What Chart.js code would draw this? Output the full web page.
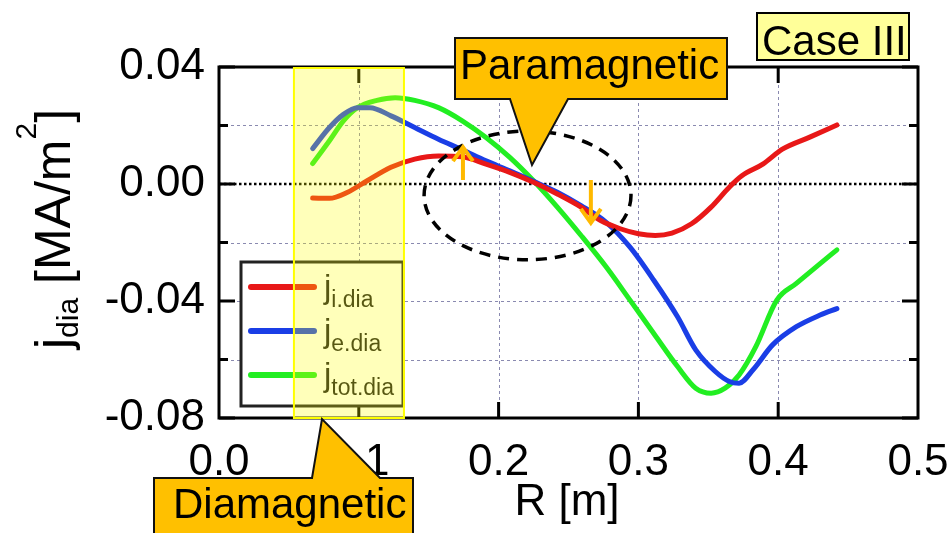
<!DOCTYPE html>
<html>
<head>
<meta charset="utf-8">
<script src="https://cdn.jsdelivr.net/npm/chart.js@4"></script>
<style>
  html, body { margin: 0; padding: 0; background: #fff; }
</style>
</head>
<body>
<canvas id="jdiaChart" width="949" height="533"></canvas>
<script>
// diamagnetic current density profiles, case III
const rIon  = [0.067, 0.079, 0.092, 0.106, 0.123, 0.140, 0.157, 0.174, 0.191, 0.208, 0.225, 0.242, 0.259, 0.273, 0.287, 0.300, 0.312, 0.324, 0.338, 0.352, 0.365, 0.374, 0.389, 0.403, 0.423, 0.442];
const jIon  = [-0.0048, -0.0049, -0.0028, 0.0011, 0.0057, 0.0085, 0.0096, 0.0093, 0.0068, 0.0040, 0.0006, -0.0034, -0.0079, -0.0125, -0.0153, -0.0170, -0.0176, -0.0168, -0.0136, -0.0079, -0.0011, 0.0028, 0.0068, 0.0119, 0.0161, 0.0202];

const rElec = [0.067, 0.079, 0.089, 0.099, 0.108, 0.123, 0.140, 0.157, 0.174, 0.191, 0.208, 0.225, 0.242, 0.259, 0.277, 0.294, 0.311, 0.328, 0.341, 0.355, 0.365, 0.372, 0.382, 0.396, 0.413, 0.430, 0.442];
const jElec = [0.0121, 0.0193, 0.0238, 0.0261, 0.0261, 0.0233, 0.0193, 0.0153, 0.0117, 0.0079, 0.0045, 0.0009, -0.0028, -0.0074, -0.0131, -0.0216, -0.0329, -0.0454, -0.0567, -0.0641, -0.0675, -0.0681, -0.0635, -0.0550, -0.0488, -0.0448, -0.0426];

const rTot  = [0.067, 0.079, 0.089, 0.099, 0.113, 0.126, 0.140, 0.157, 0.174, 0.191, 0.208, 0.225, 0.242, 0.259, 0.277, 0.294, 0.311, 0.328, 0.341, 0.352, 0.362, 0.372, 0.384, 0.399, 0.413, 0.430, 0.442];
const jTot  = [0.0070, 0.0148, 0.0216, 0.0261, 0.0286, 0.0295, 0.0286, 0.0261, 0.0216, 0.0159, 0.0091, 0.0011, -0.0079, -0.0176, -0.0284, -0.0397, -0.0511, -0.0624, -0.0698, -0.0715, -0.0698, -0.0653, -0.0556, -0.0397, -0.0340, -0.0272, -0.0225];

const legendSubs = ['i.dia', 'e.dia', 'tot.dia'];
const xTickLabels = ['0.0', '0.1', '0.2', '0.3', '0.4', '0.5'];
const yTickLabels = ['-0.08', '-0.04', '0.00', '0.04'];
const xGridValues = [0.1, 0.2, 0.3, 0.4];
const yGridValues = [0.02, -0.02, -0.04, -0.06];
const yMinorTicks = [0.02, -0.02, -0.06];
const yMajorTicks = [0.04, 0, -0.04, -0.08];

const FONT = '"Liberation Sans", Arial, sans-serif';

function pts(xs, ys) {
  return xs.map((x, i) => ({ x: x, y: ys[i] }));
}

function series(label, xs, ys, color) {
  return {
    label: label,
    data: pts(xs, ys),
    showLine: true,
    borderColor: color,
    backgroundColor: color,
    borderWidth: 5,
    borderCapStyle: 'round',
    borderJoinStyle: 'round',
    pointRadius: 0,
    cubicInterpolationMode: 'monotone'
  };
}

function polyPath(ctx, p) {
  ctx.beginPath();
  ctx.moveTo(p[0][0], p[0][1]);
  for (let i = 1; i < p.length; i++) ctx.lineTo(p[i][0], p[i][1]);
  ctx.closePath();
}

function arrow(ctx, x, y0, y1) {
  const dir = y1 < y0 ? 1 : -1;
  ctx.beginPath();
  ctx.moveTo(x, y0);
  ctx.lineTo(x, y1);
  ctx.moveTo(x - 10, y1 + dir * 14);
  ctx.lineTo(x, y1);
  ctx.lineTo(x + 10, y1 + dir * 14);
  ctx.stroke();
}

// text runs with sub/superscripts: [text, size, baseline shift]
function richText(ctx, runs, x, y) {
  let cx = x;
  runs.forEach(r => {
    ctx.font = r[1] + 'px ' + FONT;
    ctx.fillText(r[0], cx, y + r[2]);
    cx += ctx.measureText(r[0]).width;
  });
}

const decorations = {
  id: 'decorations',
  beforeDatasetsDraw(chart) {
    const { ctx, chartArea: a, scales: { x, y } } = chart;
    ctx.save();
    ctx.strokeStyle = '#8a8ab0';
    ctx.lineWidth = 1;
    ctx.setLineDash([3, 3]);
    ctx.beginPath();
    xGridValues.forEach(v => {
      const px = Math.round(x.getPixelForValue(v)) + 0.5;
      ctx.moveTo(px, a.top); ctx.lineTo(px, a.bottom);
    });
    yGridValues.forEach(v => {
      const py = Math.round(y.getPixelForValue(v)) + 0.5;
      ctx.moveTo(a.left, py); ctx.lineTo(a.right, py);
    });
    ctx.stroke();
    // zero line
    ctx.strokeStyle = '#000';
    ctx.lineWidth = 2.5;
    ctx.setLineDash([2.5, 2.5]);
    const y0 = y.getPixelForValue(0);
    ctx.beginPath();
    ctx.moveTo(a.left, y0); ctx.lineTo(a.right, y0);
    ctx.stroke();
    ctx.restore();
  },
  afterDatasetsDraw(chart) {
    const { ctx, chartArea: a, scales: { x, y } } = chart;
    ctx.save();

    // frame and inward ticks
    ctx.strokeStyle = '#000';
    ctx.lineWidth = 3;
    ctx.strokeRect(a.left, a.top, a.right - a.left, a.bottom - a.top);
    ctx.beginPath();
    xGridValues.forEach(v => {
      const px = x.getPixelForValue(v);
      ctx.moveTo(px, a.bottom); ctx.lineTo(px, a.bottom - 16);
      ctx.moveTo(px, a.top); ctx.lineTo(px, a.top + 16);
    });
    yMajorTicks.forEach(v => {
      const py = y.getPixelForValue(v);
      ctx.moveTo(a.left, py); ctx.lineTo(a.left + 16, py);
      ctx.moveTo(a.right, py); ctx.lineTo(a.right - 16, py);
    });
    yMinorTicks.forEach(v => {
      const py = y.getPixelForValue(v);
      ctx.moveTo(a.left, py); ctx.lineTo(a.left + 9, py);
      ctx.moveTo(a.right, py); ctx.lineTo(a.right - 9, py);
    });
    ctx.stroke();

    // dashed ellipse around the crossing region
    const ecx = x.getPixelForValue(0.2207), ecy = y.getPixelForValue(-0.0039);
    const erx = x.getPixelForValue(0.2207 + 0.074) - ecx;
    const ery = y.getPixelForValue(-0.0039 - 0.022) - ecy;
    ctx.setLineDash([11, 8]);
    ctx.lineWidth = 3.5;
    ctx.beginPath();
    ctx.ellipse(ecx, ecy, erx, ery, 0, 0, Math.PI * 2);
    ctx.stroke();
    ctx.setLineDash([]);

    // orange arrows
    ctx.strokeStyle = '#ffb900';
    ctx.lineWidth = 4;
    ctx.lineCap = 'butt';
    arrow(ctx, x.getPixelForValue(0.1745), y.getPixelForValue(0.0014), y.getPixelForValue(0.0126));
    arrow(ctx, x.getPixelForValue(0.266), y.getPixelForValue(0.0014), y.getPixelForValue(-0.0133));

    // legend
    ctx.fillStyle = '#fff';
    ctx.fillRect(241, 262, 162, 144);
    ctx.strokeStyle = '#222';
    ctx.lineWidth = 3;
    ctx.strokeRect(241, 262, 162, 144);
    const legendY = [287, 331, 375];
    chart.data.datasets.forEach((ds, i) => {
      const ly = legendY[i];
      ctx.strokeStyle = ds.borderColor;
      ctx.lineWidth = 6;
      ctx.lineCap = 'round';
      ctx.beginPath();
      ctx.moveTo(251, ly); ctx.lineTo(314, ly);
      ctx.stroke();
      ctx.fillStyle = '#1a1a1a';
      ctx.textBaseline = 'alphabetic';
      ctx.textAlign = 'left';
      richText(ctx, [['j', 33, 0], [legendSubs[i], 23, 9]], 324, ly + 11);
    });

    // highlighted inner region
    const bx0 = x.getPixelForValue(0.0536), bx1 = x.getPixelForValue(0.1323);
    ctx.fillStyle = 'rgba(255, 255, 0, 0.27)';
    ctx.fillRect(bx0, a.top + 1, bx1 - bx0, a.bottom - a.top - 1);
    ctx.strokeStyle = '#ffff00';
    ctx.lineWidth = 2;
    ctx.strokeRect(bx0, a.top + 1, bx1 - bx0, a.bottom - a.top - 1);
    ctx.restore();
  },
  afterDraw(chart) {
    const { ctx } = chart;
    ctx.save();
    ctx.textAlign = 'left';
    ctx.textBaseline = 'alphabetic';
    ctx.lineJoin = 'miter';

    // callouts
    ctx.fillStyle = '#ffc000';
    ctx.strokeStyle = '#111';
    ctx.lineWidth = 2;
    polyPath(ctx, [[455, 38], [727, 38], [727, 99], [568, 99], [532, 165], [510, 99], [455, 99]]);
    ctx.fill(); ctx.stroke();
    polyPath(ctx, [[154, 478], [312, 478], [322, 419], [380, 478], [413, 478], [413, 545], [154, 545]]);
    ctx.fill(); ctx.stroke();
    ctx.fillStyle = '#000';
    ctx.font = '42px ' + FONT;
    ctx.fillText('Paramagnetic', 460, 79);
    ctx.fillText('Diamagnetic', 173, 518);

    // case label
    ctx.fillStyle = '#ffff99';
    ctx.fillRect(757, 13, 152, 47);
    ctx.strokeStyle = '#000';
    ctx.lineWidth = 2;
    ctx.strokeRect(757, 13, 152, 47);
    ctx.fillStyle = '#000';
    ctx.font = '42px ' + FONT;
    ctx.fillText('Case III', 762, 55);

    // axis titles
    ctx.textAlign = 'center';
    ctx.font = '44px ' + FONT;
    ctx.fillText('R [m]', 567, 515);

    ctx.textAlign = 'left';
    ctx.translate(70, 349);
    ctx.rotate(-Math.PI / 2);
    richText(ctx, [['j', 50, 0], ['dia', 30, 8], [' [MA/m', 50, 0], ['2', 30, -34], [']', 50, 0]], 0, 0);
    ctx.restore();
  }
};

const ctx = document.getElementById('jdiaChart').getContext('2d');
const jdiaChart = new Chart(ctx, {
  type: 'scatter',
  data: {
    datasets: [
      series('j_i.dia', rIon, jIon, '#e81818'),
      series('j_e.dia', rElec, jElec, '#1a3ee6'),
      series('j_tot.dia', rTot, jTot, '#22ee22')
    ]
  },
  options: {
    responsive: false,
    animation: false,
    layout: { padding: { left: 0, right: 31, top: 67, bottom: 0 } },
    plugins: { legend: { display: false }, tooltip: { enabled: false } },
    scales: {
      x: {
        type: 'linear',
        min: 0,
        max: 0.5,
        afterFit(scale) {
          scale.height = 115;
          scale.paddingLeft = 0;
          scale.paddingRight = 0;
        },
        grid: { display: false, drawTicks: false },
        border: { display: false },
        ticks: {
          stepSize: 0.1,
          autoSkip: false,
          maxRotation: 0,
          padding: 18,
          color: '#000',
          font: { family: FONT, size: 44 },
          callback: v => xTickLabels[Math.round(v * 10)]
        }
      },
      y: {
        type: 'linear',
        min: -0.08,
        max: 0.04,
        afterFit(scale) {
          scale.width = 219;
          scale.paddingTop = 0;
          scale.paddingBottom = 0;
        },
        grid: { display: false, drawTicks: false },
        border: { display: false },
        ticks: {
          stepSize: 0.02,
          autoSkip: false,
          padding: 14,
          color: '#000',
          font: { family: FONT, size: 44 },
          callback: v => {
            const k = Math.round(v / 0.02);
            return k % 2 === 0 ? yTickLabels[(k + 4) / 2] : '';
          }
        }
      }
    }
  },
  plugins: [decorations]
});
</script>
</body>
</html>
